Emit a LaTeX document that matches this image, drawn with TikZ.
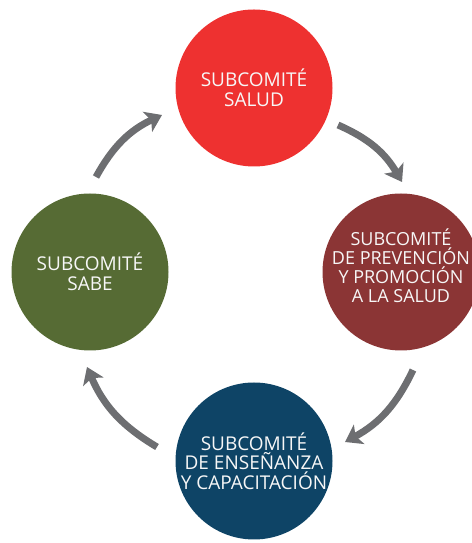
\documentclass[tikz,border=0pt]{standalone}
\usepackage{fontspec}
\setmainfont{Open Sans}
\usetikzlibrary{arrows.meta}

\definecolor{redsalud}{HTML}{EE3130}
\definecolor{redprev}{HTML}{8B3535}
\definecolor{blueens}{HTML}{0E4466}
\definecolor{greensabe}{HTML}{566B34}
\definecolor{arrowgray}{HTML}{6D6E71}

\tikzset{
  comite/.style={circle, minimum size=157pt, inner sep=0pt, align=center,
    text=white!94!gray, font=\fontsize{19}{19.5}\selectfont},
  cycle/.style={draw=arrowgray, line width=7pt,
    -{Stealth[length=16pt,width=22pt,inset=4pt]}, bend left=18}
}

\begin{document}
\begin{tikzpicture}[x=1pt,y=1pt]
  \useasboundingbox (0,0) rectangle (471,543);
  %%%COMPONENTS%%%
  \node[comite, fill=redsalud] (salud) at (254,455) {SUBCOMITÉ\\SALUD};
  \node[comite, fill=redprev] (prev) at (401,271) {};
  \node[align=center, text=white!94!gray, font=\fontsize{18}{19}\selectfont]
    (prevtxt) at ([yshift=6pt]prev.center)
    {SUBCOMITÉ\\DE PREVENCIÓN\\Y PROMOCIÓN\\A LA SALUD};
  \node[comite, fill=blueens] (ens) at (254,82)
    {SUBCOMITÉ\\DE ENSEÑANZA\\Y CAPACITACIÓN};
  \node[comite, fill=greensabe] (sabe) at (90,271) {SUBCOMITÉ\\SABE};
  %arrows
  \coordinate (a1s) at (338,418);
  \coordinate (a1e) at (402,361);
  \coordinate (a2s) at (413,173);
  \coordinate (a2e) at (345,101);
  \coordinate (a3s) at (157,96);
  \coordinate (a3e) at (87,176);
  \coordinate (a4s) at (96,366);
  \coordinate (a4e) at (162,428);
  \draw[cycle] (a1s) to (a1e);
  \draw[cycle] (a2s) to (a2e);
  \draw[cycle] (a3s) to (a3e);
  \draw[cycle] (a4s) to (a4e);
\end{tikzpicture}
\end{document}
